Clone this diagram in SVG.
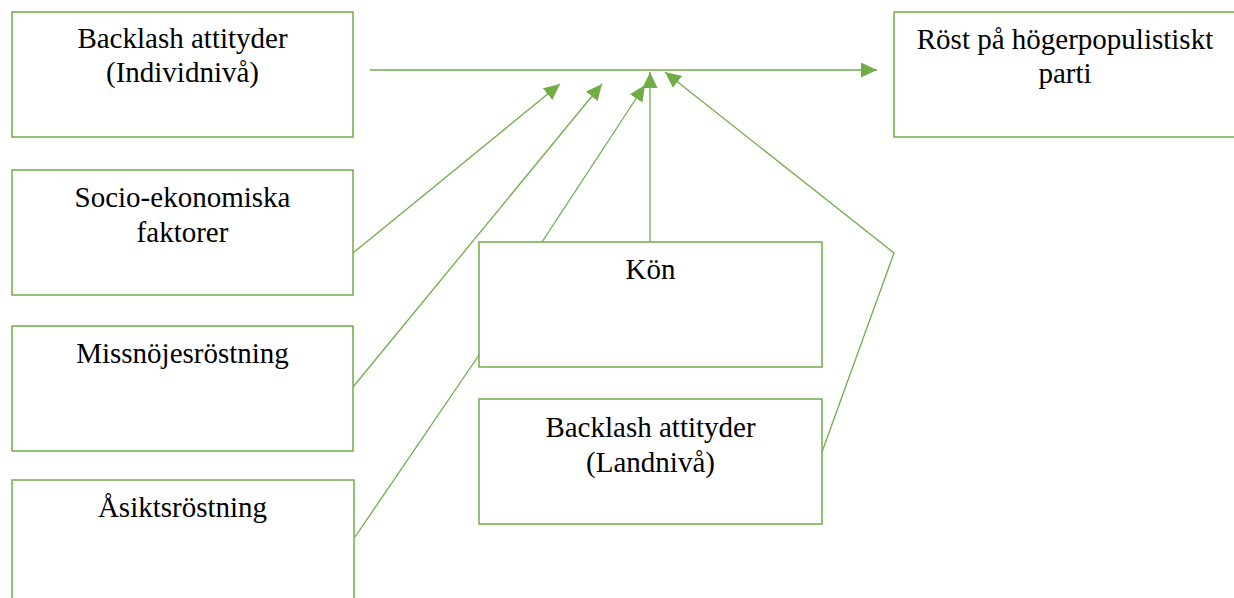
<svg xmlns="http://www.w3.org/2000/svg" width="1234" height="598" viewBox="0 0 1234 598">
<defs>
<style>
.box{fill:#fff;stroke:#70AD47;stroke-width:1.5}
.con{fill:none;stroke:#70AD47;stroke-width:1.3}
.t{font-family:"Liberation Serif","Times New Roman",serif;font-size:29px;fill:#000;text-anchor:middle}
</style>
<marker id="ah" markerUnits="userSpaceOnUse" markerWidth="17" markerHeight="16" viewBox="0 0 17 16" refX="16" refY="8" orient="auto">
<path d="M0,0.5 L16,8 L0,15.5 z" fill="#70AD47"/>
</marker>
</defs>
<g id="connectors">
<line class="con" x1="370" y1="70" x2="877" y2="70" marker-end="url(#ah)"/>
<line class="con" x1="353" y1="253" x2="560" y2="84" marker-end="url(#ah)"/>
<line class="con" x1="353" y1="387" x2="602" y2="84" marker-end="url(#ah)"/>
<polyline class="con" points="355,537 479,355 542,242 645,85" marker-end="url(#ah)"/>
<line class="con" x1="650" y1="242" x2="650" y2="72" marker-end="url(#ah)"/>
<polyline class="con" points="822,452 894,253 665,72" marker-end="url(#ah)"/>
</g>
<g id="n-individ">
<rect class="box" x="12" y="12" width="341" height="125"/>
<text class="t" x="182.5" y="48">Backlash attityder</text>
<text class="t" x="182.5" y="82">(Individnivå)</text>
</g>
<g id="n-rost">
<rect class="box" x="894" y="12" width="342" height="125"/>
<text class="t" x="1065" y="49">Röst på högerpopulistiskt</text>
<text class="t" x="1065" y="83">parti</text>
</g>
<g id="n-socio">
<rect class="box" x="12" y="170" width="341" height="125"/>
<text class="t" x="182.5" y="207">Socio-ekonomiska</text>
<text class="t" x="182.5" y="242">faktorer</text>
</g>
<g id="n-missnoje">
<rect class="box" x="12" y="326" width="341" height="125"/>
<text class="t" x="182.5" y="363">Missnöjesröstning</text>
</g>
<g id="n-asikt">
<rect class="box" x="12" y="480" width="342" height="130"/>
<text class="t" x="182.5" y="517">Åsiktsröstning</text>
</g>
<g id="n-kon">
<rect class="box" x="479" y="242" width="343" height="125"/>
<text class="t" x="650.5" y="279">Kön</text>
</g>
<g id="n-land">
<rect class="box" x="479" y="399" width="343" height="125"/>
<text class="t" x="650.5" y="437">Backlash attityder</text>
<text class="t" x="650.5" y="472">(Landnivå)</text>
</g>
</svg>
